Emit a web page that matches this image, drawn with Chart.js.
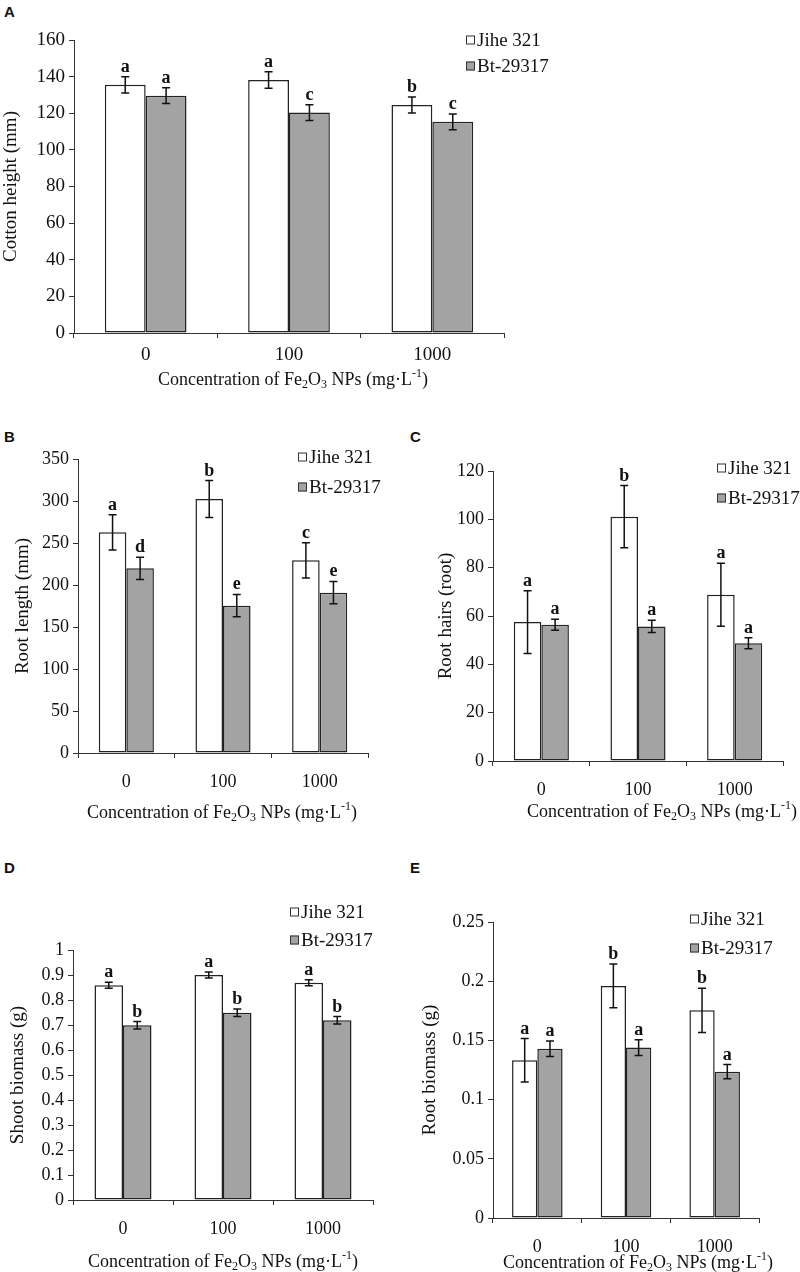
<!DOCTYPE html>
<html>
<head>
<meta charset="utf-8">
<title>Fe2O3 NPs cotton</title>
<script src="https://cdn.jsdelivr.net/npm/chart.js@4.4.1/dist/chart.umd.min.js"></script>
<style>
  body { margin: 0; background: #fff; }
  #page { position: relative; width: 800px; height: 1272px; overflow: hidden; }
  #page canvas { position: absolute; }
  .tag { position: absolute; font: bold 15px "Liberation Sans", Arial, sans-serif; color: #111; }
</style>
</head>
<body>
<div id="page">
  <div class="tag" style="left:4px;top:3px">A</div>
  <div class="tag" style="left:4px;top:428px">B</div>
  <div class="tag" style="left:410px;top:428px">C</div>
  <div class="tag" style="left:4px;top:859px">D</div>
  <div class="tag" style="left:410px;top:859px">E</div>
  <canvas id="chartA"></canvas>
  <canvas id="chartB"></canvas>
  <canvas id="chartC"></canvas>
  <canvas id="chartD"></canvas>
  <canvas id="chartE"></canvas>
</div>
<script>
// shared categories and series
var concentrations = ['0', '100', '1000'];
var cultivars = ['Jihe 321', 'Bt-29317'];

// A - cotton height (mm)
var heightJihe = [135.5, 138.2, 124.5];
var heightJiheErr = [4.4, 4.5, 4.4];
var heightJiheSig = ['a', 'a', 'b'];
var heightBt = [129.6, 120.4, 115.3];
var heightBtErr = [4.3, 4.3, 4.3];
var heightBtSig = ['a', 'c', 'c'];

// B - root length (mm)
var rootLenJihe = [262.7, 302.4, 229.4];
var rootLenJiheErr = [21, 22, 21];
var rootLenJiheSig = ['a', 'b', 'c'];
var rootLenBt = [219.8, 175.4, 190.9];
var rootLenBtErr = [13.3, 13.3, 13.3];
var rootLenBtSig = ['d', 'e', 'e'];

// C - root hairs (root)
var hairsJihe = [57.5, 101.1, 68.8];
var hairsJiheErr = [13, 12.9, 13];
var hairsJiheSig = ['a', 'b', 'a'];
var hairsBt = [56.4, 55.7, 48.7];
var hairsBtErr = [2.3, 2.5, 2.3];
var hairsBtSig = ['a', 'a', 'a'];

// D - shoot biomass (g)
var shootJihe = [0.859, 0.90, 0.869];
var shootJiheErr = [0.012, 0.012, 0.012];
var shootJiheSig = ['a', 'a', 'a'];
var shootBt = [0.699, 0.749, 0.719];
var shootBtErr = [0.015, 0.015, 0.015];
var shootBtSig = ['b', 'b', 'b'];

// E - root biomass (g)
var rootMassJihe = [0.1332, 0.196, 0.1754];
var rootMassJiheErr = [0.0183, 0.0185, 0.0187];
var rootMassJiheSig = ['a', 'b', 'b'];
var rootMassBt = [0.143, 0.1439, 0.1236];
var rootMassBtErr = [0.0065, 0.0067, 0.006];
var rootMassBtSig = ['a', 'a', 'a'];

var SERIF = '"Liberation Serif", "Times New Roman", serif';
var INK = '#111';
var xTitleParts = [['Concentration of Fe', ''], ['2', 'sub'], ['O', ''], ['3', 'sub'],
                   [' NPs (mg\u00b7L', ''], ['-1', 'sup'], [')', '']];

// error bars + significance letters on top of each bar
var errorBars = {
  id: 'errorBars',
  afterDatasetsDraw: function (chart) {
    var ctx = chart.ctx, y = chart.scales.y;
    chart.data.datasets.forEach(function (ds, di) {
      chart.getDatasetMeta(di).data.forEach(function (bar, i) {
        var top = y.getPixelForValue(ds.data[i] + ds.errors[i]);
        var bot = y.getPixelForValue(ds.data[i] - ds.errors[i]);
        ctx.save();
        ctx.strokeStyle = INK;
        ctx.lineWidth = 1.5;
        ctx.beginPath();
        ctx.moveTo(bar.x, top); ctx.lineTo(bar.x, bot);
        ctx.moveTo(bar.x - 4, top); ctx.lineTo(bar.x + 4, top);
        ctx.moveTo(bar.x - 4, bot); ctx.lineTo(bar.x + 4, bot);
        ctx.stroke();
        ctx.fillStyle = INK;
        ctx.font = 'bold 18px ' + SERIF;
        ctx.textAlign = 'center';
        ctx.textBaseline = 'alphabetic';
        ctx.fillText(ds.letters[i], bar.x, top - 5);
        ctx.restore();
      });
    });
  }
};

// legend with small squares, placed where the original has it
var boxLegend = {
  id: 'boxLegend',
  afterDraw: function (chart, args, opts) {
    var ctx = chart.ctx;
    ctx.save();
    chart.data.datasets.forEach(function (ds, i) {
      var cy = opts.y + i * opts.gap;
      ctx.fillStyle = ds.backgroundColor;
      ctx.strokeStyle = '#333';
      ctx.lineWidth = 1;
      ctx.fillRect(opts.x, cy - 4.5, 9, 9);
      ctx.strokeRect(opts.x + 0.5, cy - 4, 8, 8);
      ctx.fillStyle = INK;
      ctx.font = '19px ' + SERIF;
      ctx.textAlign = 'left';
      ctx.textBaseline = 'middle';
      ctx.fillText(ds.label, opts.x + 11, cy + 1);
    });
    ctx.restore();
  }
};

// x axis title with sub/superscripts
var richXTitle = {
  id: 'richXTitle',
  afterDraw: function (chart, args, opts) {
    var ctx = chart.ctx, size = 18;
    var fontFor = function (k) { return (k ? 12 : size) + 'px ' + SERIF; };
    var total = 0;
    xTitleParts.forEach(function (p) { ctx.font = fontFor(p[1]); total += ctx.measureText(p[0]).width; });
    var x = opts.cx - total / 2;
    ctx.save();
    ctx.fillStyle = INK;
    ctx.textAlign = 'left';
    ctx.textBaseline = 'middle';
    xTitleParts.forEach(function (p) {
      ctx.font = fontFor(p[1]);
      var dy = p[1] === 'sub' ? 5 : (p[1] === 'sup' ? -6 : 0);
      ctx.fillText(p[0], x, opts.cy + dy);
      x += ctx.measureText(p[0]).width;
    });
    ctx.restore();
  }
};

function makePanel(id, p) {
  var canvas = document.getElementById(id);
  canvas.width = p.box.w;
  canvas.height = p.box.h;
  canvas.style.left = p.box.x + 'px';
  canvas.style.top = p.box.y + 'px';

  var axisW = p.plot.left - p.box.x;
  var axisH = p.box.y + p.box.h - p.plot.bottom;

  return new Chart(canvas, {
    type: 'bar',
    data: {
      labels: concentrations,
      datasets: [{
        label: cultivars[0],
        data: p.jihe, errors: p.jiheErr, letters: p.jiheSig,
        backgroundColor: '#ffffff', borderColor: '#222', borderWidth: 1.5, borderSkipped: false,
        barPercentage: 1, categoryPercentage: 0.57
      }, {
        label: cultivars[1],
        data: p.bt, errors: p.btErr, letters: p.btSig,
        backgroundColor: '#a3a3a3', borderColor: '#222', borderWidth: 1.5, borderSkipped: false,
        barPercentage: 1, categoryPercentage: 0.57
      }]
    },
    options: {
      responsive: false,
      animation: false,
      layout: {
        padding: {
          left: 0,
          top: p.plot.top - p.box.y,
          right: p.box.x + p.box.w - p.plot.right,
          bottom: 0
        }
      },
      plugins: {
        legend: { display: false },
        tooltip: { enabled: false },
        boxLegend: { x: p.legend.x - p.box.x, y: p.legend.y - p.box.y, gap: p.legend.gap },
        richXTitle: { cx: p.xTitle.cx - p.box.x, cy: p.xTitle.cy - p.box.y }
      },
      scales: {
        x: {
          afterFit: function (s) { s.height = axisH; },
          grid: { offset: true, drawOnChartArea: false, drawTicks: true, tickLength: 5, color: '#333' },
          border: { display: true, color: '#333', width: 1 },
          ticks: { color: INK, font: { family: SERIF, size: p.tickSize }, padding: p.xTickPad, maxRotation: 0 }
        },
        y: {
          min: 0,
          max: p.yMax,
          afterFit: function (s) { s.width = axisW; },
          grid: { drawOnChartArea: false, drawTicks: true, tickLength: 5, color: '#333' },
          border: { display: true, color: '#333', width: 1 },
          ticks: {
            stepSize: p.yStep,
            color: INK,
            padding: 4,
            font: { family: SERIF, size: p.tickSize },
            callback: function (v) { return String(Math.round(v * 1000) / 1000); }
          },
          title: {
            display: true,
            text: p.yTitle,
            color: INK,
            font: { family: SERIF, size: 19 },
            padding: { top: p.yTitlePad, bottom: 0 }
          }
        }
      }
    },
    plugins: [errorBars, boxLegend, richXTitle]
  });
}

makePanel('chartA', {
  box: { x: 0, y: 0, w: 560, h: 400 },
  plot: { left: 74, top: 40, right: 504, bottom: 333 },
  yMax: 160, yStep: 20, yTitle: 'Cotton height (mm)', yTitlePad: 0,
  tickSize: 19, xTickPad: 6,
  legend: { x: 466, y: 40, gap: 26 },
  xTitle: { cx: 293, cy: 380 },
  jihe: heightJihe, jiheErr: heightJiheErr, jiheSig: heightJiheSig,
  bt: heightBt, btErr: heightBtErr, btSig: heightBtSig
});

makePanel('chartB', {
  box: { x: 0, y: 420, w: 395, h: 410 },
  plot: { left: 78, top: 459, right: 368, bottom: 753 },
  yMax: 350, yStep: 50, yTitle: 'Root length (mm)', yTitlePad: 12,
  tickSize: 18, xTickPad: 13,
  legend: { x: 298, y: 457, gap: 30 },
  xTitle: { cx: 222, cy: 813 },
  jihe: rootLenJihe, jiheErr: rootLenJiheErr, jiheSig: rootLenJiheSig,
  bt: rootLenBt, btErr: rootLenBtErr, btSig: rootLenBtSig
});

makePanel('chartC', {
  box: { x: 395, y: 420, w: 405, h: 410 },
  plot: { left: 493, top: 471, right: 783, bottom: 761 },
  yMax: 120, yStep: 20, yTitle: 'Root hairs (root)', yTitlePad: 40,
  tickSize: 18, xTickPad: 13,
  legend: { x: 717, y: 468, gap: 30 },
  xTitle: { cx: 662, cy: 812 },
  jihe: hairsJihe, jiheErr: hairsJiheErr, jiheSig: hairsJiheSig,
  bt: hairsBt, btErr: hairsBtErr, btSig: hairsBtSig
});

makePanel('chartD', {
  box: { x: 0, y: 845, w: 395, h: 427 },
  plot: { left: 73, top: 950, right: 373, bottom: 1200 },
  yMax: 1, yStep: 0.1, yTitle: 'Shoot biomass (g)', yTitlePad: 7,
  tickSize: 18, xTickPad: 13,
  legend: { x: 290, y: 912, gap: 28 },
  xTitle: { cx: 223, cy: 1262 },
  jihe: shootJihe, jiheErr: shootJiheErr, jiheSig: shootJiheSig,
  bt: shootBt, btErr: shootBtErr, btSig: shootBtSig
});

makePanel('chartE', {
  box: { x: 395, y: 845, w: 405, h: 427 },
  plot: { left: 493, top: 922, right: 759, bottom: 1218 },
  yMax: 0.25, yStep: 0.05, yTitle: 'Root biomass (g)', yTitlePad: 24,
  tickSize: 18, xTickPad: 13,
  legend: { x: 690, y: 919, gap: 29 },
  xTitle: { cx: 638, cy: 1263 },
  jihe: rootMassJihe, jiheErr: rootMassJiheErr, jiheSig: rootMassJiheSig,
  bt: rootMassBt, btErr: rootMassBtErr, btSig: rootMassBtSig
});
</script>
</body>
</html>
